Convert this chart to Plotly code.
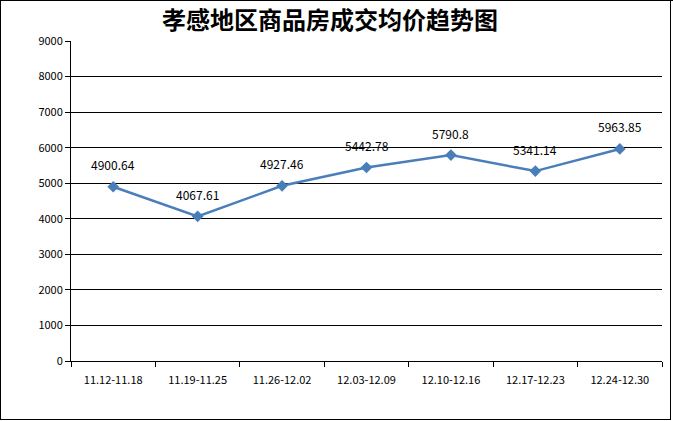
import plotly.graph_objects as go

categories = ["11.12-11.18", "11.19-11.25", "11.26-12.02", "12.03-12.09",
              "12.10-12.16", "12.17-12.23", "12.24-12.30"]
prices = [4900.64, 4067.61, 4927.46, 5442.78, 5790.8, 5341.14, 5963.85]
price_labels = ["4900.64", "4067.61", "4927.46", "5442.78", "5790.8", "5341.14", "5963.85"]
y_ticks = [0, 1000, 2000, 3000, 4000, 5000, 6000, 7000, 8000, 9000]
title_text = "孝感地区商品房成交均价趋势图"

W, H = 673, 421
ml, mr, mt, mb = 71, 11, 41, 60
pw = W - ml - mr
ph = H - mt - mb

fig = go.Figure()
fig.add_trace(go.Scatter(
    x=list(range(len(categories))), y=prices, mode="lines+markers",
    line=dict(color="#4a7ebb", width=2.5),
    marker=dict(symbol="diamond", size=9, color="#4a7ebb"),
    hoverinfo="skip", showlegend=False,
))

for i, (v, t) in enumerate(zip(prices, price_labels)):
    fig.add_annotation(x=i, y=v, text=t, showarrow=False, yshift=22,
                       font=dict(family="Noto Sans CJK SC", size=12, color="black"))

def px_x(p):
    return (p - ml) / pw

def px_y(p):
    return 1 - (p - mt) / ph

# outer frame as four thin filled strips (pixel positions -> paper coords)
strips = [(0, 0, W - 2, 1), (0, H - 2, W - 2, H - 1), (0, 0, 1, H - 1), (W - 3, 0, W - 2, H - 1)]
for (xa, ya, xb, yb) in strips:
    fig.add_shape(type="rect", xref="paper", yref="paper",
                  x0=px_x(xa), x1=px_x(xb), y0=px_y(ya), y1=px_y(yb),
                  fillcolor="black", line=dict(width=0), layer="above")

fig.update_layout(
    width=W, height=H,
    margin=dict(l=ml, r=mr, t=mt, b=mb),
    paper_bgcolor="rgba(0,0,0,0)", plot_bgcolor="white",
    title=dict(text="<b>" + title_text + "</b>", x=330 / W, xanchor="center",
               y=1 - 21 / H, yanchor="middle",
               font=dict(family="Noto Sans CJK SC", size=24, color="black")),
    xaxis=dict(
        range=[-0.5, len(categories) - 0.5],
        tickmode="array", tickvals=list(range(len(categories))), ticktext=categories,
        showgrid=False, zeroline=False,
        showline=True, linecolor="black", linewidth=1,
        ticks="", ticklabelstandoff=9,
        tickfont=dict(family="Noto Sans CJK SC", size=11, color="black"),
    ),
    xaxis2=dict(
        overlaying="x", range=[-0.5, len(categories) - 0.5],
        tickmode="array", tickvals=[i - 0.5 for i in range(len(categories) + 1)],
        ticktext=[""] * (len(categories) + 1),
        ticks="outside", ticklen=5, tickcolor="black", tickwidth=1,
        showgrid=False, zeroline=False, showline=False, side="bottom",
        anchor="y",
    ),
    yaxis=dict(
        range=[0, 9000], tickmode="array", tickvals=y_ticks,
        ticktext=[str(v) for v in y_ticks],
        showgrid=True, gridcolor="black", gridwidth=1,
        zeroline=False, showline=True, linecolor="black", linewidth=1,
        ticks="outside", ticklen=5, tickcolor="black",
        tickfont=dict(family="Noto Sans CJK SC", size=11, color="black"),
    ),
)
fig.add_trace(go.Scatter(x=[0], y=[0], xaxis="x2", mode="markers",
                         marker=dict(opacity=0), showlegend=False, hoverinfo="skip"))

fig.write_html(
    "out.html", config={"displayModeBar": False},
    post_script=(
        "document.body.style.margin='0';document.body.style.padding='0';"
        "document.body.style.background='white';"
        "document.documentElement.style.overflow='hidden';"
        "var d=document.querySelector('.plotly-graph-div');"
        "if(d){d.style.boxShadow='inset 0 1px 0 black';}"
    ),
)
